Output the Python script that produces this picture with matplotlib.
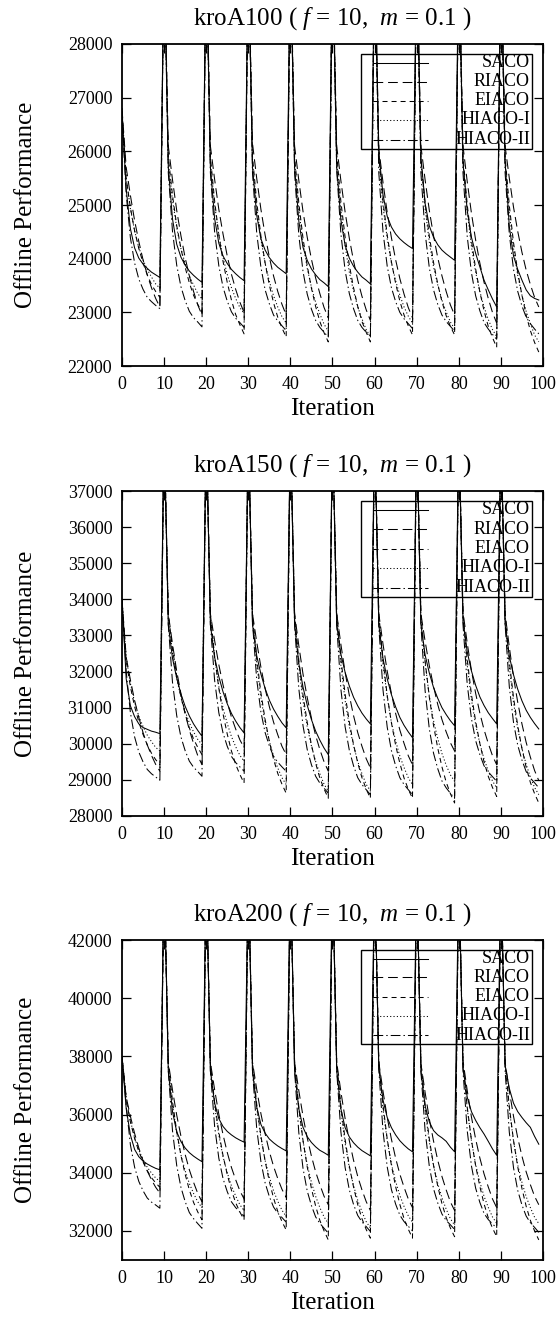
import matplotlib
matplotlib.use("Agg")
import matplotlib.pyplot as plt
from matplotlib.patches import Rectangle
from matplotlib.lines import Line2D

plt.rcParams['font.family'] = ['Liberation Serif', 'DejaVu Serif']
plt.rcParams['mathtext.fontset'] = 'custom'
plt.rcParams['mathtext.rm'] = 'Liberation Serif'
plt.rcParams['mathtext.it'] = 'Liberation Serif:italic'
plt.rcParams['lines.scale_dashes'] = False

# ---------------- data ----------------
iterations = list(range(100))
algorithms = ["SACO", "RIACO", "EIACO", "HIACO-I", "HIACO-II"]
x_ticks = [0, 10, 20, 30, 40, 50, 60, 70, 80, 90, 100]

kroA100_SACO = [
    26700, 25300, 24560, 24200, 24010, 23900, 23820, 23750, 23700, 23650,
    29800, 25700, 24740, 24270, 24030, 23880, 23770, 23690, 23620, 23560,
    29800, 25700, 24750, 24290, 24050, 23910, 23800, 23720, 23650, 23590,
    29800, 25700, 24810, 24370, 24160, 24020, 23920, 23840, 23780, 23720,
    29800, 25700, 24700, 24210, 23970, 23810, 23700, 23610, 23550, 23480,
    29800, 25700, 24720, 24250, 24010, 23860, 23750, 23660, 23600, 23530,
    29800, 26000, 25190, 24790, 24590, 24460, 24370, 24300, 24240, 24190,
    29800, 25900, 25030, 24610, 24400, 24260, 24160, 24090, 24030, 23970,
    29800, 25800, 24900, 24400, 24100, 23850, 23600, 23420, 23250, 23100,
    29800, 25800, 24600, 24050, 23800, 23600, 23420, 23310, 23260, 23230]
kroA100_RIACO = [
    26800, 25700, 25180, 24710, 24320, 23980, 23700, 23460, 23260, 23100,
    29800, 26100, 25470, 24900, 24430, 24020, 23680, 23390, 23140, 22950,
    29800, 26100, 25480, 24920, 24460, 24050, 23710, 23430, 23190, 23000,
    29800, 26150, 25500, 24920, 24440, 24030, 23680, 23390, 23150, 22950,
    29800, 26100, 25460, 24880, 24400, 23990, 23640, 23350, 23090, 22900,
    29800, 26100, 25450, 24870, 24380, 23960, 23600, 23300, 23050, 22850,
    29800, 26050, 25420, 24860, 24390, 23980, 23630, 23340, 23090, 22900,
    29800, 26100, 25470, 24900, 24430, 24020, 23680, 23390, 23140, 22950,
    29800, 26100, 25440, 24850, 24350, 23920, 23560, 23260, 23000, 22800,
    29800, 26100, 25500, 24960, 24510, 24120, 23790, 23520, 23280, 23100]
kroA100_EIACO = [
    26750, 25500, 24950, 24520, 24190, 23920, 23700, 23520, 23390, 23280,
    29800, 25900, 25180, 24620, 24190, 23840, 23550, 23320, 23150, 23000,
    29800, 25900, 25080, 24450, 23950, 23560, 23230, 22960, 22770, 22600,
    29800, 25900, 25060, 24420, 23920, 23510, 23180, 22910, 22710, 22540,
    29800, 25900, 25040, 24380, 23870, 23450, 23110, 22830, 22620, 22450,
    29800, 25950, 25060, 24400, 23880, 23460, 23110, 22830, 22630, 22450,
    29800, 25900, 25070, 24440, 23940, 23540, 23210, 22950, 22750, 22580,
    29800, 25850, 25040, 24420, 23930, 23530, 23200, 22940, 22740, 22580,
    29800, 25900, 25010, 24340, 23810, 23380, 23030, 22740, 22530, 22350,
    29800, 25900, 24990, 24300, 23750, 23320, 22950, 22660, 22440, 22260]
kroA100_HIACO1 = [
    26800, 25500, 24930, 24520, 24210, 23980, 23800, 23660, 23530, 23450,
    29800, 25800, 25090, 24580, 24190, 23910, 23680, 23510, 23350, 23250,
    29800, 25800, 25010, 24450, 24020, 23710, 23460, 23260, 23090, 22980,
    29800, 25800, 24960, 24360, 23910, 23580, 23310, 23100, 22920, 22800,
    29800, 25800, 24920, 24290, 23820, 23470, 23190, 22970, 22780, 22650,
    29800, 25800, 24890, 24240, 23750, 23400, 23100, 22880, 22680, 22550,
    29800, 25850, 24980, 24370, 23920, 23590, 23320, 23100, 22930, 22800,
    29800, 25800, 24930, 24310, 23850, 23510, 23230, 23010, 22820, 22700,
    29800, 25780, 24880, 24230, 23750, 23390, 23100, 22870, 22680, 22550,
    29800, 25800, 24860, 24190, 23690, 23320, 23020, 22790, 22580, 22450]
kroA100_HIACO2 = [
    26700, 25200, 24390, 23920, 23620, 23430, 23280, 23200, 23130, 23070,
    29800, 25600, 24510, 23880, 23480, 23220, 23020, 22900, 22820, 22730,
    29800, 25600, 24500, 23870, 23470, 23210, 23010, 22890, 22810, 22720,
    29800, 25600, 24480, 23840, 23420, 23160, 22950, 22840, 22750, 22660,
    29800, 25600, 24440, 23760, 23340, 23060, 22850, 22720, 22630, 22540,
    29800, 25650, 24460, 23780, 23350, 23070, 22850, 22720, 22630, 22540,
    29800, 25600, 24500, 23860, 23460, 23200, 23000, 22880, 22790, 22700,
    29800, 25600, 24480, 23830, 23420, 23150, 22950, 22830, 22740, 22650,
    29800, 25600, 24420, 23740, 23310, 23030, 22810, 22690, 22590, 22500,
    29800, 25600, 24460, 23800, 23390, 23120, 22910, 22790, 22690, 22600]

kroA150_SACO = [
    34000, 31800, 31050, 30750, 30550, 30450, 30400, 30350, 30320, 30280,
    38800, 33300, 32370, 31820, 31380, 31040, 30770, 30550, 30370, 30210,
    38800, 33300, 32400, 31860, 31440, 31110, 30840, 30630, 30450, 30300,
    38800, 33300, 32440, 31930, 31530, 31210, 30960, 30760, 30580, 30440,
    38800, 33300, 32220, 31570, 31070, 30670, 30350, 30100, 29880, 29700,
    38800, 33300, 32480, 31980, 31600, 31290, 31050, 30850, 30690, 30550,
    38800, 33300, 32360, 31800, 31360, 31020, 30730, 30510, 30330, 30170,
    38800, 33300, 32460, 31960, 31560, 31260, 31000, 30810, 30640, 30500,
    38800, 33400, 32550, 32020, 31620, 31300, 31060, 30860, 30700, 30550,
    38800, 33300, 32430, 31910, 31510, 31190, 30930, 30730, 30560, 30410]
kroA150_RIACO = [
    34000, 32400, 31770, 31200, 30730, 30310, 29970, 29680, 29430, 29240,
    38800, 33600, 32760, 32010, 31390, 30840, 30380, 30010, 29670, 29420,
    38800, 33600, 32860, 32190, 31630, 31150, 30740, 30410, 30110, 29890,
    38800, 33600, 32820, 32120, 31530, 31030, 30600, 30250, 29930, 29700,
    38800, 33600, 32720, 31930, 31280, 30710, 30230, 29840, 29500, 29240,
    38800, 33600, 32750, 31980, 31340, 30780, 30310, 29930, 29590, 29330,
    38800, 33600, 32760, 32010, 31390, 30840, 30380, 30010, 29670, 29420,
    38800, 33600, 32840, 32160, 31590, 31090, 30670, 30330, 30030, 29800,
    38800, 33650, 32790, 32030, 31400, 30850, 30390, 30010, 29670, 29420,
    38800, 33600, 32680, 31840, 31150, 30550, 30040, 29630, 29260, 28980]
kroA150_EIACO = [
    34000, 32300, 31580, 31030, 30600, 30260, 29970, 29740, 29560, 29420,
    38800, 33600, 32630, 31880, 31300, 30830, 30440, 30130, 29900, 29700,
    38800, 33600, 32430, 31540, 30830, 30270, 29800, 29430, 29150, 28910,
    38800, 33600, 32360, 31410, 30670, 30070, 29570, 29180, 28880, 28630,
    38800, 33600, 32320, 31350, 30590, 29970, 29460, 29050, 28750, 28490,
    38800, 33650, 32350, 31370, 30600, 29980, 29470, 29060, 28750, 28490,
    38800, 33600, 32310, 31340, 30580, 29960, 29460, 29050, 28740, 28490,
    38800, 33600, 32290, 31290, 30510, 29880, 29360, 28940, 28620, 28360,
    38800, 33600, 32340, 31370, 30620, 30010, 29500, 29100, 28790, 28540,
    38800, 33600, 32280, 31280, 30500, 29870, 29350, 28930, 28620, 28360]
kroA150_HIACO1 = [
    33950, 32400, 31670, 31150, 30760, 30480, 30240, 30060, 29900, 29800,
    38800, 33500, 32510, 31810, 31280, 30900, 30580, 30330, 30120, 29980,
    38800, 33500, 32390, 31590, 30990, 30560, 30200, 29920, 29680, 29520,
    38800, 33500, 32200, 31280, 30580, 30070, 29660, 29330, 29060, 28870,
    38800, 33500, 32150, 31190, 30470, 29940, 29510, 29170, 28880, 28690,
    38800, 33550, 32170, 31200, 30480, 29950, 29510, 29170, 28880, 28690,
    38800, 33500, 32210, 31290, 30590, 30080, 29660, 29340, 29060, 28870,
    38800, 33500, 32230, 31320, 30640, 30140, 29730, 29410, 29140, 28960,
    38800, 33500, 32180, 31230, 30530, 30010, 29580, 29250, 28970, 28780,
    38800, 33500, 32130, 31140, 30410, 29870, 29430, 29080, 28790, 28590]
kroA150_HIACO2 = [
    34000, 32000, 30860, 30190, 29770, 29500, 29290, 29170, 29080, 28990,
    38800, 33300, 31700, 30780, 30190, 29810, 29520, 29350, 29230, 29100,
    38800, 33300, 31760, 30860, 30300, 29930, 29650, 29480, 29360, 29240,
    38800, 33350, 31780, 30880, 30310, 29940, 29650, 29490, 29360, 29240,
    38800, 33300, 31530, 30500, 29840, 29420, 29100, 28910, 28770, 28630,
    38800, 33300, 31510, 30470, 29820, 29390, 29060, 28870, 28730, 28590,
    38800, 33250, 31490, 30460, 29810, 29390, 29060, 28870, 28730, 28590,
    38800, 33300, 31470, 30410, 29740, 29310, 28970, 28780, 28630, 28490,
    38800, 33300, 31650, 30700, 30090, 29700, 29390, 29220, 29090, 28960,
    38800, 33300, 31580, 30590, 29960, 29550, 29230, 29050, 28920, 28780]

kroA200_SACO = [
    38000, 36200, 35300, 34800, 34550, 34400, 34300, 34220, 34150, 34100,
    44500, 37500, 36100, 35410, 35070, 34850, 34690, 34570, 34470, 34380,
    44500, 37500, 36400, 35860, 35590, 35420, 35300, 35200, 35120, 35050,
    44500, 37500, 36260, 35660, 35360, 35160, 35030, 34920, 34830, 34750,
    44500, 37500, 36200, 35560, 35240, 35040, 34890, 34770, 34690, 34600,
    44500, 37500, 36190, 35550, 35230, 35030, 34880, 34760, 34670, 34580,
    44500, 37600, 36500, 35900, 35550, 35300, 35100, 34950, 34820, 34720,
    44500, 37500, 36300, 35750, 35450, 35300, 35200, 35080, 34880, 34720,
    44500, 37600, 36600, 36100, 35800, 35550, 35330, 35080, 34820, 34600,
    44500, 37700, 36900, 36390, 36100, 35900, 35720, 35560, 35250, 34980]
kroA200_RIACO = [
    38000, 36600, 35940, 35350, 34850, 34420, 34060, 33760, 33500, 33300,
    44500, 37800, 36840, 35980, 35260, 34630, 34100, 33670, 33290, 33000,
    44500, 37800, 36860, 36010, 35310, 34700, 34180, 33760, 33380, 33100,
    44500, 37800, 36870, 36030, 35340, 34730, 34220, 33800, 33430, 33150,
    44500, 37800, 36820, 35940, 35200, 34570, 34030, 33590, 33190, 32900,
    44500, 37800, 36780, 35860, 35100, 34430, 33870, 33410, 33010, 32700,
    44500, 37800, 36800, 35900, 35150, 34500, 33950, 33500, 33100, 32800,
    44500, 37750, 36760, 35850, 35090, 34430, 33870, 33410, 33000, 32700,
    44500, 37850, 36830, 35920, 35160, 34510, 33960, 33510, 33100, 32800,
    44500, 37800, 36820, 35940, 35200, 34570, 34030, 33590, 33190, 32900]
kroA200_EIACO = [
    38000, 36500, 35750, 35180, 34730, 34370, 34070, 33830, 33650, 33500,
    44500, 37800, 36450, 35420, 34600, 33950, 33410, 32980, 32650, 32380,
    44500, 37750, 36420, 35400, 34590, 33940, 33400, 32970, 32650, 32380,
    44500, 37800, 36360, 35260, 34400, 33700, 33130, 32670, 32320, 32030,
    44500, 37800, 36270, 35110, 34200, 33460, 32850, 32360, 32000, 31690,
    44500, 37800, 36290, 35140, 34230, 33510, 32900, 32420, 32050, 31750,
    44500, 37850, 36320, 35160, 34250, 33520, 32910, 32420, 32060, 31750,
    44500, 37800, 36300, 35160, 34260, 33540, 32940, 32460, 32100, 31800,
    44500, 37750, 36260, 35130, 34240, 33530, 32930, 32450, 32100, 31800,
    44500, 37800, 36270, 35110, 34200, 33460, 32850, 32360, 32000, 31690]
kroA200_HIACO1 = [
    38000, 36600, 35790, 35210, 34770, 34450, 34190, 33990, 33820, 33700,
    44500, 37700, 36330, 35350, 34610, 34070, 33630, 33290, 33000, 32800,
    44500, 37700, 36300, 35300, 34550, 34000, 33550, 33200, 32900, 32700,
    44500, 37700, 36240, 35200, 34420, 33850, 33380, 33020, 32710, 32500,
    44500, 37700, 36180, 35090, 34270, 33670, 33190, 32800, 32480, 32260,
    44500, 37700, 36130, 35010, 34170, 33560, 33050, 32660, 32320, 32100,
    44500, 37700, 36190, 35110, 34300, 33700, 33220, 32840, 32520, 32300,
    44500, 37700, 36160, 35060, 34240, 33630, 33140, 32750, 32420, 32200,
    44500, 37750, 36200, 35100, 34280, 33680, 33190, 32810, 32480, 32260,
    44500, 37700, 36180, 35090, 34270, 33670, 33180, 32800, 32470, 32250]
kroA200_HIACO2 = [
    38000, 36300, 34960, 34190, 33700, 33380, 33130, 32990, 32890, 32780,
    44500, 37500, 35440, 34250, 33500, 33010, 32630, 32420, 32250, 32090,
    44500, 37500, 35600, 34500, 33800, 33350, 33000, 32800, 32650, 32500,
    44500, 37500, 35520, 34380, 33650, 33180, 32820, 32610, 32460, 32300,
    44500, 37500, 35380, 34150, 33370, 32870, 32480, 32260, 32090, 31920,
    44500, 37500, 35400, 34180, 33410, 32910, 32530, 32310, 32150, 31980,
    44500, 37550, 35430, 34200, 33420, 32920, 32540, 32320, 32160, 32000,
    44500, 37500, 35440, 34220, 33450, 32960, 32580, 32360, 32210, 32050,
    44500, 37500, 35450, 34240, 33470, 32980, 32600, 32390, 32240, 32100,
    44500, 37500, 35390, 34170, 33390, 32890, 32510, 32280, 32120, 31950]

titles = ["kroA100 ( $f$ = 10,  $m$ = 0.1 )",
          "kroA150 ( $f$ = 10,  $m$ = 0.1 )",
          "kroA200 ( $f$ = 10,  $m$ = 0.1 )"]
y_limits = [(22000, 28000), (28000, 37000), (31000, 42000)]
y_ticks = [[22000, 23000, 24000, 25000, 26000, 27000, 28000],
           [28000, 29000, 30000, 31000, 32000, 33000, 34000, 35000, 36000, 37000],
           [32000, 34000, 36000, 38000, 40000, 42000]]
panel_series = [
    [kroA100_SACO, kroA100_RIACO, kroA100_EIACO, kroA100_HIACO1, kroA100_HIACO2],
    [kroA150_SACO, kroA150_RIACO, kroA150_EIACO, kroA150_HIACO1, kroA150_HIACO2],
    [kroA200_SACO, kroA200_RIACO, kroA200_EIACO, kroA200_HIACO1, kroA200_HIACO2],
]

# ---------------- style ----------------
line_styles = ['-', (0, (7.0, 3.5)), (0, (3.6, 2.9)), (0, (0.8, 1.6)),
               (0, (7.0, 2.2, 1.0, 2.2))]
axes_rects = [[0.2186, 0.7229, 0.7545, 0.2438],
              [0.2186, 0.3823, 0.7545, 0.2460],
              [0.2186, 0.0462, 0.7545, 0.2422]]
legend_rows = [0.942, 0.883, 0.823, 0.764, 0.703]

fig = plt.figure(figsize=(5.58, 13.21), dpi=100)
for p in range(3):
    ax = fig.add_axes(axes_rects[p])
    for s, name in enumerate(algorithms):
        ax.plot(iterations, panel_series[p][s], color='black', lw=0.75,
                linestyle=line_styles[s], zorder=3)
    ax.set_xlim(0, 100)
    ax.set_ylim(*y_limits[p])
    ax.set_xticks(x_ticks)
    ax.set_yticks(y_ticks[p])
    ax.tick_params(direction='in', length=6.5, width=0.9, top=True, right=True,
                   labelsize=13, pad=7)
    for sp in ax.spines.values():
        sp.set_linewidth(1.3)
    ax.set_title(titles[p], fontsize=18, pad=14)
    ax.set_xlabel("Iteration", fontsize=18, labelpad=4)
    ax.set_ylabel("Offline Performance", fontsize=18, labelpad=22)

    # gnuplot-style key: sample on the left, right-justified labels
    ax.add_patch(Rectangle((0.568, 0.675), 0.406, 0.295, transform=ax.transAxes,
                           fill=False, lw=1.0, edgecolor='black', zorder=2))
    for s, name in enumerate(algorithms):
        ax.add_line(Line2D([0.596, 0.727], [legend_rows[s], legend_rows[s]],
                           transform=ax.transAxes, color='black', lw=0.75,
                           linestyle=line_styles[s], zorder=2))
        ax.text(0.969, legend_rows[s], name, transform=ax.transAxes,
                ha='right', va='center', fontsize=13, zorder=2)

fig.savefig("out.png", dpi=100)
